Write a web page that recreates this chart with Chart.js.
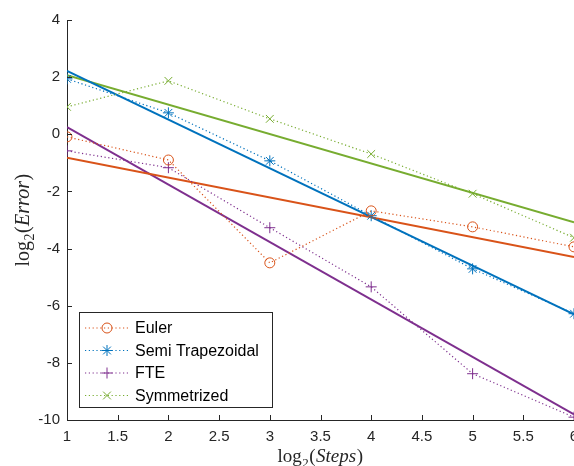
<!DOCTYPE html>
<html>
<head>
<meta charset="utf-8">
<script src="https://cdn.jsdelivr.net/npm/chart.js@4/dist/chart.umd.min.js"></script>
<style>
  html, body { margin: 0; padding: 0; background: #fff; }
  canvas { display: block; }
</style>
</head>
<body>
<canvas id="errChart" width="574" height="466"></canvas>
<script>
// x = log2(Steps)
const steps = [1, 2, 3, 4, 5, 6];

// y = log2(Error), one list per method
const euler       = [-0.09, -0.90, -4.50, -2.68, -3.24, -3.94];
const semiTrap    = [1.94, 0.75, -0.93, -2.85, -4.71, -6.28];
const fte         = [-0.58, -1.17, -3.27, -5.34, -8.38, -9.90];
const symmetrized = [0.96, 1.87, 0.54, -0.69, -2.08, -3.62];

// straight fit lines, values at x = 1 and x = 6
const fitX           = [1, 6];
const eulerFit       = [-0.82, -4.30];
const semiTrapFit    = [2.22, -6.30];
const fteFit         = [0.25, -9.80];
const symmetrizedFit = [2.07, -3.08];

const xTicks = [1, 1.5, 2, 2.5, 3, 3.5, 4, 4.5, 5, 5.5, 6];
const xTickLabels = ['1', '1.5', '2', '2.5', '3', '3.5', '4', '4.5', '5', '5.5', '6'];
const yTicks = [-10, -8, -6, -4, -2, 0, 2, 4];
const yTickLabels = ['-10', '-8', '-6', '-4', '-2', '0', '2', '4'];

// axis titles: pieces of "log_2(...)"
const xTitle = [['log', ''], ['2', 'sub'], ['(', ''], ['Steps', 'it'], [')', '']];
const yTitle = [['log', ''], ['2', 'sub'], ['(', ''], ['Error', 'it'], [')', '']];

const ORANGE = '#D95319';
const BLUE = '#0072BD';
const PURPLE = '#7E2F8E';
const GREEN = '#77AC30';
const AXIS = '#262626';

const toPts = (xs, ys) => xs.map((x, i) => ({ x: x, y: ys[i] }));

function series(label, ys, color, style, radius) {
    return {
        label: label,
        data: toPts(steps, ys),
        borderColor: color,
        borderWidth: 1.2,
        borderDash: [1.2, 2.6],
        pointStyle: style,
        pointRadius: radius,
        pointBorderWidth: 1,
        pointBorderColor: color,
        pointBackgroundColor: 'rgba(0,0,0,0)',
        fill: false,
        tension: 0,
        inLegend: true
    };
}

function fitLine(ys, color) {
    return {
        data: toPts(fitX, ys),
        borderColor: color,
        borderWidth: 2,
        pointRadius: 0,
        fill: false,
        tension: 0
    };
}

// small marker painter for the legend
function marker(ctx, style, x, y, r) {
    ctx.beginPath();
    if (style === 'circle') {
        ctx.arc(x, y, r, 0, Math.PI * 2);
    } else {
        const d = r * Math.SQRT1_2;
        if (style === 'cross' || style === 'star') {
            ctx.moveTo(x - r, y); ctx.lineTo(x + r, y);
            ctx.moveTo(x, y - r); ctx.lineTo(x, y + r);
        }
        if (style === 'crossRot' || style === 'star') {
            ctx.moveTo(x - d, y - d); ctx.lineTo(x + d, y + d);
            ctx.moveTo(x - d, y + d); ctx.lineTo(x + d, y - d);
        }
    }
    ctx.stroke();
}

function drawMath(ctx, parts, cx, base, size) {
    const fontOf = (kind) => {
        if (kind === 'sub') return Math.round(size * 0.7) + 'px "Liberation Serif", serif';
        if (kind === 'it') return 'italic ' + size + 'px "Liberation Serif", serif';
        return size + 'px "Liberation Serif", serif';
    };
    let total = 0;
    parts.forEach(p => { ctx.font = fontOf(p[1]); total += ctx.measureText(p[0]).width + 0.5; });
    let x = cx - total / 2;
    ctx.textAlign = 'left';
    ctx.textBaseline = 'alphabetic';
    parts.forEach(p => {
        ctx.font = fontOf(p[1]);
        ctx.fillText(p[0], x, p[1] === 'sub' ? base + size * 0.25 : base);
        x += ctx.measureText(p[0]).width + 0.5;
    });
}

const innerTicks = {
    id: 'innerTicks',
    afterDraw(chart) {
        const { ctx, chartArea: a, scales: { x, y } } = chart;
        ctx.save();
        ctx.strokeStyle = AXIS;
        ctx.lineWidth = 1;
        ctx.beginPath();
        xTicks.forEach(v => {
            const px = Math.round(x.getPixelForValue(v)) + 0.5;
            ctx.moveTo(px, a.bottom);
            ctx.lineTo(px, a.bottom - 5);
        });
        yTicks.forEach(v => {
            const py = Math.round(y.getPixelForValue(v)) + 0.5;
            ctx.moveTo(a.left, py);
            ctx.lineTo(a.left + 5, py);
        });
        ctx.stroke();
        ctx.restore();
    }
};

const axisTitles = {
    id: 'axisTitles',
    afterDraw(chart) {
        const { ctx, chartArea: a } = chart;
        ctx.save();
        ctx.fillStyle = AXIS;
        drawMath(ctx, xTitle, (a.left + a.right) / 2, 462, 19);
        ctx.translate(29, (a.top + a.bottom) / 2);
        ctx.rotate(-Math.PI / 2);
        drawMath(ctx, yTitle, 0, 0, 20);
        ctx.restore();
    }
};

const boxLegend = {
    id: 'boxLegend',
    afterDraw(chart) {
        const ctx = chart.ctx;
        const items = chart.data.datasets.filter(d => d.inLegend);
        const left = 79.5, top = 312.5, w = 193, h = 95;
        ctx.save();
        ctx.fillStyle = '#fff';
        ctx.fillRect(left, top, w, h);
        ctx.strokeStyle = AXIS;
        ctx.lineWidth = 1;
        ctx.strokeRect(left, top, w, h);
        items.forEach((d, i) => {
            const yy = 328 + i * 22.5;
            ctx.strokeStyle = d.borderColor;
            ctx.lineWidth = d.borderWidth;
            ctx.setLineDash(d.borderDash);
            ctx.beginPath();
            ctx.moveTo(85, yy);
            ctx.lineTo(130, yy);
            ctx.stroke();
            ctx.setLineDash([]);
            ctx.lineWidth = 1;
            marker(ctx, d.pointStyle, 107, yy, d.pointRadius);
            ctx.fillStyle = '#000';
            ctx.font = '16px "Liberation Sans", Arial, sans-serif';
            ctx.textAlign = 'left';
            ctx.textBaseline = 'middle';
            ctx.fillText(d.label, 135, yy + 1);
        });
        ctx.restore();
    }
};

const tickFont = { family: '"Liberation Sans", Arial, sans-serif', size: 15 };

new Chart(document.getElementById('errChart'), {
    type: 'line',
    data: {
        datasets: [
            series('Euler', euler, ORANGE, 'circle', 5),
            series('Semi Trapezoidal', semiTrap, BLUE, 'star', 5.5),
            series('FTE', fte, PURPLE, 'cross', 5.5),
            series('Symmetrized', symmetrized, GREEN, 'crossRot', 5.5),
            fitLine(eulerFit, ORANGE),
            fitLine(semiTrapFit, BLUE),
            fitLine(fteFit, PURPLE),
            fitLine(symmetrizedFit, GREEN)
        ]
    },
    options: {
        responsive: false,
        animation: false,
        devicePixelRatio: 1,
        layout: { autoPadding: false, padding: { left: 0, top: 20, right: 0, bottom: 0 } },
        plugins: { legend: { display: false }, tooltip: { enabled: false } },
        scales: {
            x: {
                type: 'linear',
                min: 1,
                max: 6,
                afterBuildTicks: s => { s.ticks = xTicks.map(v => ({ value: v })); },
                afterFit: s => { s.height = 46; s.paddingLeft = 0; s.paddingRight = 0; },
                ticks: {
                    callback: (v, i) => xTickLabels[i],
                    font: tickFont,
                    color: AXIS,
                    padding: 8,
                    maxRotation: 0,
                    autoSkip: false
                },
                grid: { display: false, drawTicks: false },
                border: { display: true, color: AXIS, width: 1 }
            },
            y: {
                type: 'linear',
                min: -10,
                max: 4,
                afterBuildTicks: s => { s.ticks = yTicks.map(v => ({ value: v })); },
                afterFit: s => { s.width = 67; s.paddingTop = 0; s.paddingBottom = 0; },
                ticks: {
                    callback: (v, i) => yTickLabels[i],
                    font: tickFont,
                    color: AXIS,
                    padding: 7,
                    autoSkip: false
                },
                grid: { display: false, drawTicks: false },
                border: { display: true, color: AXIS, width: 1 }
            }
        }
    },
    plugins: [innerTicks, axisTitles, boxLegend]
});
</script>
</body>
</html>
